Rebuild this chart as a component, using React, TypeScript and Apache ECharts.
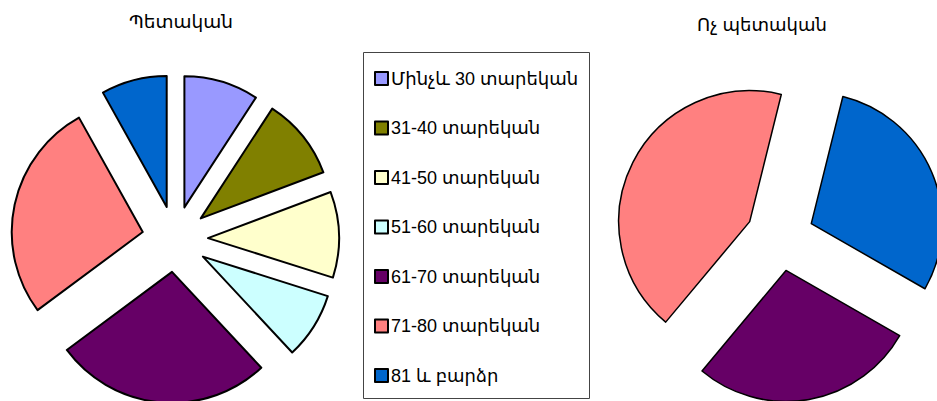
import React, { useEffect, useRef } from "react";
import * as echarts from "echarts";

const categories = [
  "Մինչև 30 տարեկան",
  "31-40 տարեկան",
  "41-50 տարեկան",
  "51-60 տարեկան",
  "61-70 տարեկան",
  "71-80 տարեկան",
  "81 և բարձր",
];
const colors = ["#9999FF", "#808000", "#FFFFCC", "#CCFFFF", "#660066", "#FF8080", "#0066CC"];

const stateValues = [9.2, 10.1, 10.6, 8.2, 26.8, 27.1, 8.1];
const nonStateCategories = ["61-70 տարեկան", "71-80 տարեկան", "81 և բարձր"];
const nonStateValues = [27.8, 42.8, 29.4];

const titleState = "Պետական";
const titleNonState = "Ոչ պետական";

const FONT = "Arial, 'Liberation Sans', 'DejaVu Sans', sans-serif";

export default function App() {
  const ref = useRef<HTMLDivElement>(null);
  useEffect(() => {
    if (!ref.current) return;
    const chart = echarts.init(ref.current, null, { renderer: "svg" });
    const colorOf = (name: string) => colors[categories.indexOf(name)];
    const commonSeries = {
      type: "pie",
      radius: 131,
      selectedMode: "multiple",
      label: { show: false },
      labelLine: { show: false },
      emphasis: { disabled: true },
      tooltip: { show: false },
    };
    chart.setOption({
      animation: false,
      legend: {
        orient: "vertical",
        left: 374,
        top: 69.5,
        height: 330,
        padding: 0,
        itemWidth: 13,
        itemHeight: 13,
        itemGap: 31.5,
        icon: "rect",
        selectedMode: false,
        data: categories,
        textStyle: { fontSize: 18, color: "#000", fontFamily: FONT, padding: [0, 0, 0, -2] },
      },
      graphic: [
        {
          type: "rect",
          shape: { x: 363.5, y: 52.5, width: 226, height: 346 },
          style: { fill: "none", stroke: "#444", lineWidth: 1 },
          silent: true,
        },
        {
          type: "text",
          x: 181,
          y: 21,
          style: {
            text: titleState,
            fontSize: 18.5,
            fontFamily: FONT,
            fill: "#000",
            textAlign: "center",
            textVerticalAlign: "middle",
          },
        },
        {
          type: "text",
          x: 762,
          y: 25,
          style: {
            text: titleNonState,
            fontSize: 18,
            fontFamily: FONT,
            fill: "#000",
            textAlign: "center",
            textVerticalAlign: "middle",
          },
        },
      ],
      series: [
        {
          ...commonSeries,
          name: titleState,
          center: [175, 239],
          startAngle: 90,
          selectedOffset: 33,
          itemStyle: { borderColor: "#000", borderWidth: 2 },
          data: categories.map((c, i) => ({
            name: c,
            value: stateValues[i],
            selected: true,
            itemStyle: { color: colorOf(c) },
          })),
        },
        {
          ...commonSeries,
          name: titleNonState,
          center: [780, 237],
          startAngle: -29.8,
          selectedOffset: 34,
          itemStyle: { borderColor: "#000", borderWidth: 1.5 },
          data: nonStateCategories.map((c, i) => ({
            name: c,
            value: nonStateValues[i],
            selected: true,
            itemStyle: { color: colorOf(c) },
          })),
        },
      ],
    });
    return () => chart.dispose();
  }, []);
  return (
    <div
      ref={ref}
      style={{ position: "fixed", left: 0, top: 0, width: 937, height: 401, background: "#fff" }}
    />
  );
}
